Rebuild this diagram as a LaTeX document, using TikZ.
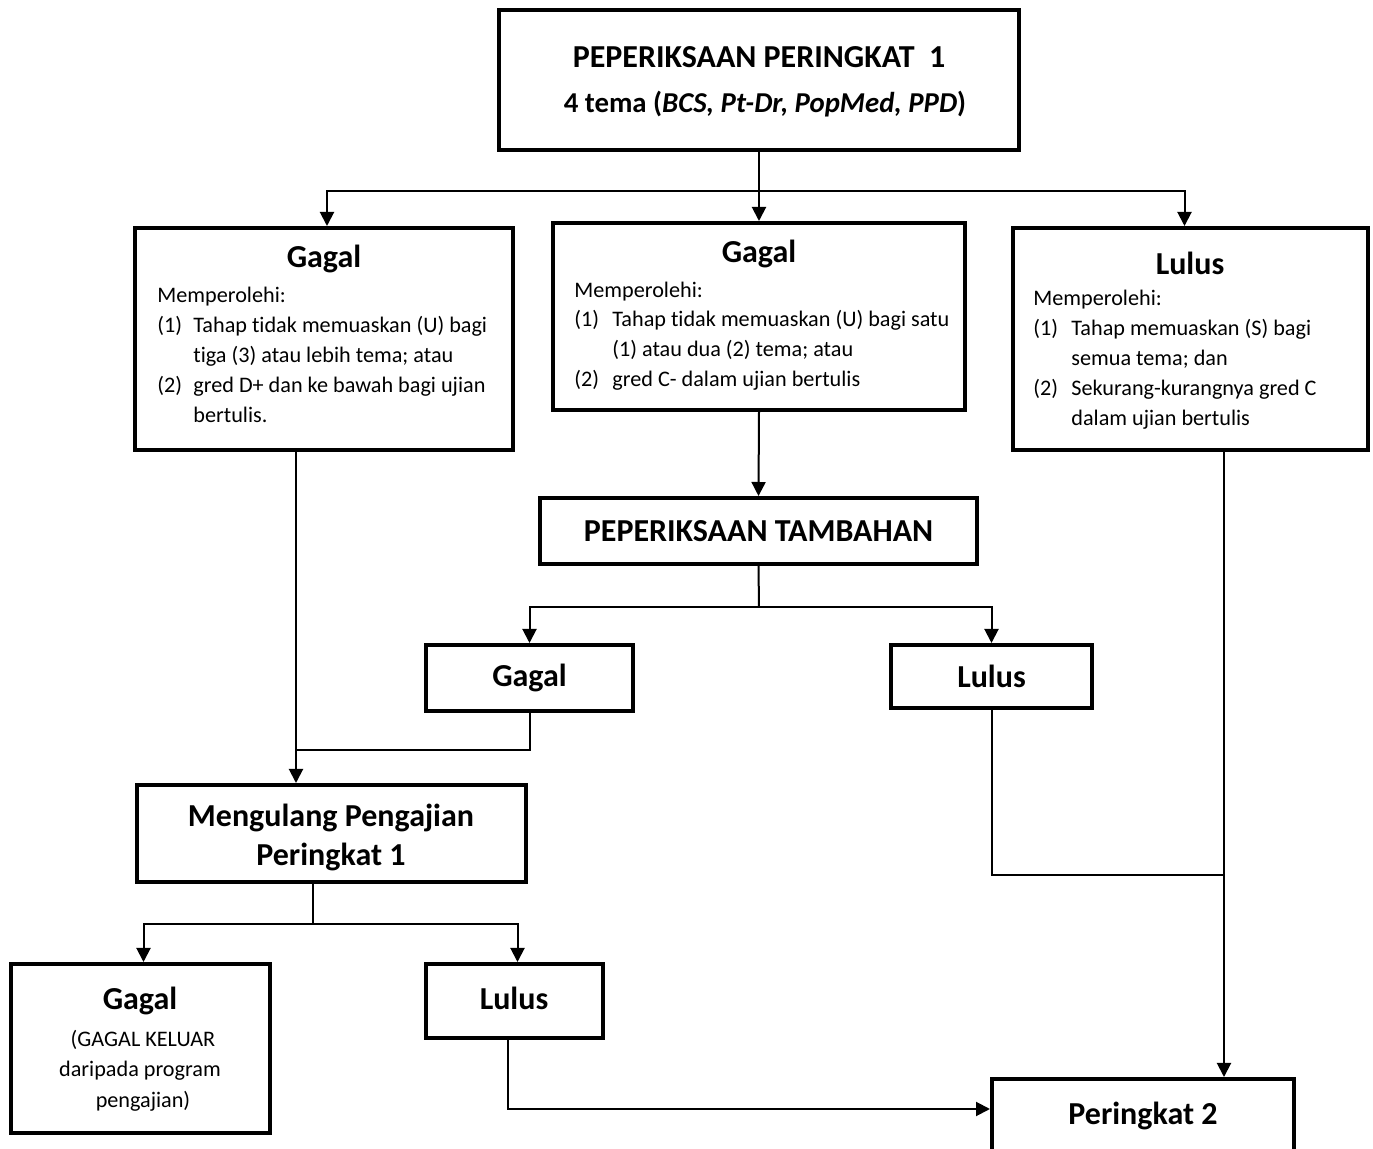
\documentclass[tikz,border=0pt]{standalone}
\usepackage{fontspec}
\setmainfont{Carlito}[Ligatures=NoCommon]
\usetikzlibrary{arrows.meta}
\begin{document}
\begin{tikzpicture}[x=0.5pt,y=-0.5pt,
  box/.style={draw, line width=2pt, inner sep=0pt},
  head/.style={font=\bfseries\fontsize{16}{19.5}\selectfont, inner sep=0pt, align=center},
  body/.style={font=\fontsize{11.1}{15}\selectfont, inner sep=0pt, anchor=mid west},
  cbody/.style={font=\fontsize{11.1}{15}\selectfont, inner sep=0pt},
  conn/.style={line width=1pt},
  arr/.style={conn, -{Triangle[width=7pt,length=7pt]}}]
\clip (0,0) rectangle (1373,1149);
% box helper: name, x1, y1, x2, y2 (outer edges), text
\newcommand\flowbox[6]{%
  \pgfmathsetmacro\bw{(#4-#2-4)*0.5}%
  \pgfmathsetmacro\bh{(#5-#3-4)*0.5}%
  \node[box, minimum width=\bw pt, minimum height=\bh pt] (#1) at ({(#2+#4)/2},{(#3+#5)/2}) {#6};}

% ---- boxes ----
\flowbox{top}{497}{8}{1021}{152}{}
\flowbox{lg}{133}{226}{515}{452}{}
\flowbox{mg}{551}{221}{967}{412}{}
\flowbox{rl}{1011}{226}{1370}{452}{}
\flowbox{tb}{538}{496}{979}{566}{\textbf{\fontsize{16}{19}\selectfont PEPERIKSAAN TAMBAHAN}}
\flowbox{g2}{424}{643}{635}{713}{\textbf{\fontsize{16}{19}\selectfont Gagal}}
\flowbox{l2}{889}{643}{1094}{710}{\textbf{\fontsize{16}{19}\selectfont Lulus}}
\flowbox{mu}{135}{783}{528}{884}{}
\flowbox{fg}{9}{962}{272}{1135}{}
\flowbox{fl}{424}{962}{605}{1040}{}
\flowbox{p2}{990}{1077}{1296}{1154}{\textbf{\fontsize{16}{19}\selectfont Peringkat 2}}

% ---- texts ----
\node[head] (topt1) at (759,57) {PEPERIKSAAN PERINGKAT~~1};
\node[head, font=\bfseries\fontsize{14.4}{18}\selectfont] (topt2) at (765,104) {4 tema (\textit{BCS, Pt-Dr, PopMed, PPD})};

\node[head] (lgh) at (324,259) {Gagal};
\node[body] (lgm) at (157,298) {Memperolehi:};
\node[body] (lgn1) at (157,328) {(1)};
\node[body] (lgt1) at (193,328) {Tahap tidak memuaskan (U) bagi};
\node[body] (lgt1b) at (193,358) {tiga (3) atau lebih tema; atau};
\node[body] (lgn2) at (157,388) {(2)};
\node[body] (lgt2) at (193,388) {gred D+ dan ke bawah bagi ujian};
\node[body] (lgt2b) at (193,418) {bertulis.};

\node[head] (mgh) at (759,254) {Gagal};
\node[body] (mgm) at (574,293) {Memperolehi:};
\node[body] (mgn1) at (574,322) {(1)};
\node[body] (mgt1) at (612,322) {Tahap tidak memuaskan (U) bagi satu};
\node[body] (mgt1b) at (612,352) {(1) atau dua (2) tema; atau};
\node[body] (mgn2) at (574,382) {(2)};
\node[body] (mgt2) at (612,382) {gred C- dalam ujian bertulis};

\node[head] (rlh) at (1190,263) {Lulus};
\node[body] (rlm) at (1033,301) {Memperolehi:};
\node[body] (rln1) at (1033,331) {(1)};
\node[body] (rlt1) at (1071,331) {Tahap memuaskan (S) bagi};
\node[body] (rlt1b) at (1071,361) {semua tema; dan};
\node[body] (rln2) at (1033,391) {(2)};
\node[body] (rlt2) at (1071,391) {Sekurang-kurangnya gred C};
\node[body] (rlt2b) at (1071,421) {dalam ujian bertulis};

\node[head] (muh) at (331,837) {Mengulang Pengajian\\Peringkat 1};

\node[head] (fgh) at (140,1001) {Gagal};
\node[cbody] (fg1) at (143,1040) {(GAGAL KELUAR};
\node[cbody] (fg2) at (140,1071) {daripada program};
\node[cbody] (fg3) at (143,1101) {pengajian)};

\node[head] (flh) at (514,998) {Lulus};

% ---- junction points ----
\coordinate (j1) at (759,191);
\coordinate (j2) at (759,607);
\coordinate (j3) at (313,924);
\coordinate (c1) at (296,750);
\coordinate (c4) at (508,1109);
\coordinate (c5) at (1224,875);

% ---- connectors ----
\draw[arr] (top.south) -- (mg.north);
\draw[arr] (j1) -| ([xshift=1.5pt]lg.north);
\draw[arr] (j1) -| ([xshift=-3pt]rl.north);
\draw[arr] (mg.south) -- (tb.north);
\draw[conn] (tb.south) -- (j2);
\draw[arr] (j2) -| (g2.north);
\draw[arr] (j2) -| (l2.north);
\draw[arr] (lg.south -| c1) -- (mu.north -| c1);
\draw[conn] (g2.south) |- (c1);
\draw[conn] (mu.south -| j3) -- (j3);
\draw[arr] (j3) -| ([xshift=1.5pt]fg.north);
\draw[arr] (j3) -| ([xshift=1.5pt]fl.north);
\draw[arr] (fl.south -| c4) -- (c4) -- (p2.west |- c4);
\draw[arr] (rl.south -| c5) -- (p2.north -| c5);
\draw[conn] (l2.south) |- (c5);
\end{tikzpicture}
\end{document}
